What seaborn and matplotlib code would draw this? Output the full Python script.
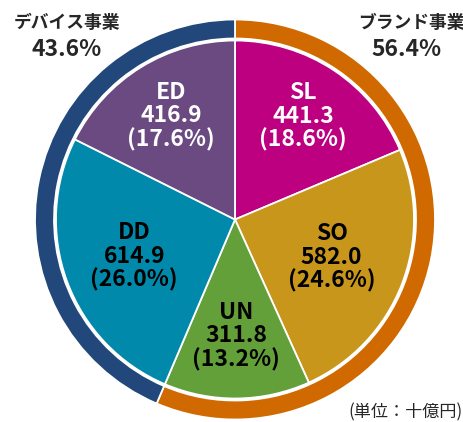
import numpy as np
import seaborn as sns
import matplotlib.pyplot as plt

sns.set_style("white")
plt.rcParams["font.family"] = ["Noto Sans CJK JP", "DejaVu Sans"]

# segment data (billion yen)
segments = ["SL", "SO", "UN", "DD", "ED"]
values = [441.3, 582.0, 311.8, 614.9, 416.9]
shares = ["18.6%", "24.6%", "13.2%", "26.0%", "17.6%"]
seg_colors = ["#BC0080", "#C8961A", "#64A03A", "#0089AA", "#6A4A80"]
text_colors = ["white", "black", "black", "black", "white"]

# business groups (outer ring)
groups = ["ブランド事業", "デバイス事業"]
group_values = [values[0] + values[1] + values[2], values[3] + values[4]]
group_shares = ["56.4%", "43.6%"]
group_colors = ["#D06A00", "#22477A"]

W, H = 464, 422
fig = plt.figure(figsize=(W / 100, H / 100), dpi=100)
ax = fig.add_axes([0, 0, 1, 1])

cx, cy = 235, H - 219.5
ring_r, ring_w, pie_r = 200, 19, 179

ax.pie(group_values, colors=group_colors, startangle=90, counterclock=False,
       center=(cx, cy), radius=ring_r,
       wedgeprops=dict(width=ring_w, edgecolor="white", linewidth=1.3))
wedges, _ = ax.pie(values, colors=seg_colors, startangle=90, counterclock=False,
                   center=(cx, cy), radius=pie_r,
                   wedgeprops=dict(edgecolor="white", linewidth=1.3))

# label distances tuned per wedge
label_r = [0.69, 0.58, 0.65, 0.60, 0.68]
for w, name, v, s, tc, lr in zip(wedges, segments, values, shares, text_colors, label_r):
    ang = np.deg2rad((w.theta1 + w.theta2) / 2)
    x = cx + lr * pie_r * np.cos(ang)
    y = cy + lr * pie_r * np.sin(ang)
    ax.text(x, y, f"{name}\n{v:.1f}\n({s})", ha="center", va="center",
            color=tc, fontsize=16.5, fontweight="bold", linespacing=1.02)

# group labels at the corners
ax.text(67, H - 23, groups[1], ha="center", va="center", fontsize=12.8, fontweight="bold")
ax.text(67, H - 50, group_shares[1], ha="center", va="center", fontsize=16.5, fontweight="bold")
ax.text(411, H - 23, groups[0], ha="center", va="center", fontsize=12.8, fontweight="bold")
ax.text(407, H - 50, group_shares[0], ha="center", va="center", fontsize=16.5, fontweight="bold")

ax.text(463, H - 412, "(単位：十億円)", ha="right", va="center", fontsize=12.3)

ax.set_xlim(0, W)
ax.set_ylim(0, H)
ax.set_aspect("equal")
ax.set_axis_off()

plt.savefig("out.png", dpi=100)
plt.close()
